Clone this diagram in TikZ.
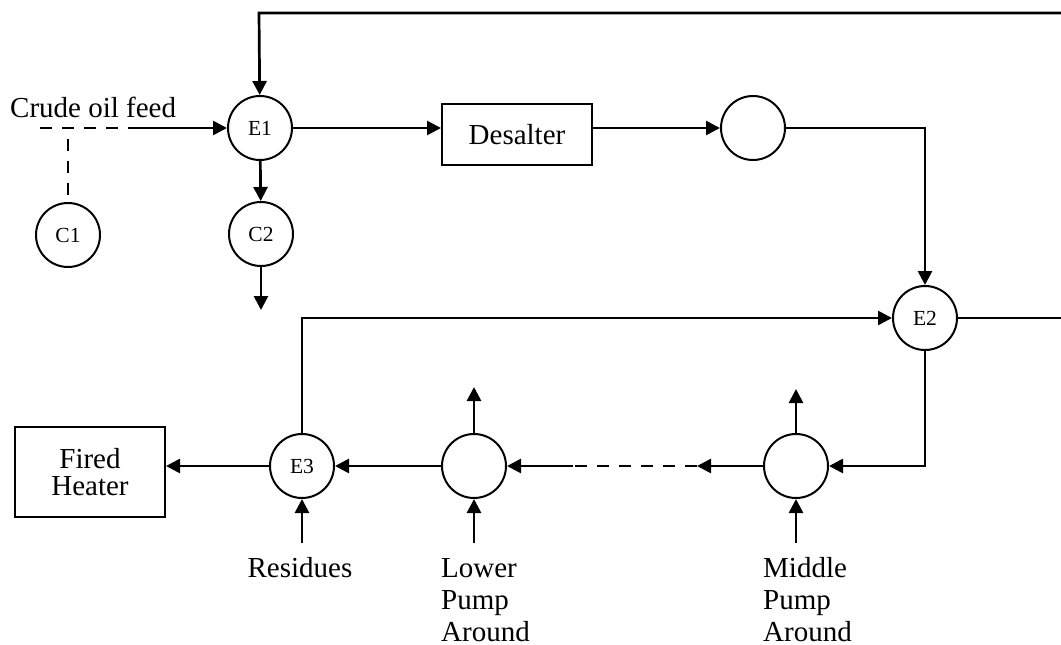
\documentclass[tikz,border=0pt]{standalone}
\usepackage{fontspec}
\setmainfont{Liberation Serif}
\usetikzlibrary{arrows.meta}
\begin{document}
\begin{tikzpicture}[x=1pt,y=-1pt,
  unit/.style={circle,draw,line width=2pt,minimum size=64pt,inner sep=0pt,font=\fontsize{21.5}{23}\selectfont},
  block/.style={rectangle,draw,line width=2pt,inner sep=0pt,font=\fontsize{29}{27}\selectfont,align=center},
  flow/.style={line width=2.7pt,-{Triangle[length=14pt,width=14pt]}},
  pipe/.style={line width=2.7pt},
  dashpipe/.style={line width=2.7pt,dash pattern=on 12pt off 10pt},
  lbl/.style={inner sep=0pt,font=\fontsize{29}{32}\selectfont,align=left}]
\useasboundingbox (0,0) rectangle (1061,645);

% units
\node[unit] (E1) at (260,128) {E1};
\node[unit] (C1) at (68,235) {C1};
\node[unit] (C2) at (261,234) {C2};
\node[block,minimum width=150pt,minimum height=61pt] (desalter) at (517,134.5) {Desalter};
\node[unit] (H1) at (753,128) {};
\node[unit] (E2) at (925,318) {E2};
\node[unit] (E3) at (302,466) {E3};
\node[unit] (LP) at (474,466) {};
\node[unit] (MP) at (796,466) {};
\node[block,minimum width=150pt,minimum height=90pt] (heater) at (90,472) {\raisebox{-5pt}{Fired}\\\raisebox{-5pt}{Heater}};

% labels
\node[lbl,anchor=base west] (feed) at (10,117) {Crude oil feed};
\node[lbl,anchor=base] (res) at (300,577) {Residues};
\node[lbl,anchor=north west] (lpa) at (441,557) {Lower\vphantom{d}\\Pump\\Around};
\node[lbl,anchor=north west] (mpa) at (763,557) {Middle\\Pump\\Around};

% auxiliary points
\coordinate (topR) at (1061,13);
\coordinate (topL) at (259,13);
\coordinate (feedA) at (40,128);
\coordinate (feedB) at (140,128);
\coordinate (c1top) at (68,195);
\coordinate (c2out) at (261,310);
\coordinate (bendA) at (925,128);
\coordinate (e2out) at (1061,318);
\coordinate (bendB) at (302,318);
\coordinate (bendC) at (925,466);
\coordinate (dashR) at (697,466);
\coordinate (dashL) at (573,466);
\coordinate (lpUp) at (474,387);
\coordinate (mpUp) at (796,389);
\coordinate (resIn) at (302,543);
\coordinate (lpIn) at (474,543);
\coordinate (mpIn) at (796,543);

% connectors
\draw[flow] (topR) -- (topL) -- (E1);
\draw[dashpipe] (feedA) -- (feedB);
\draw[dashpipe] (c1top) -- (68,128);
\draw[flow] (feedB) -- (E1);
\draw[flow] (E1) -- (C2);
\draw[flow] (C2) -- (c2out);
\draw[flow] (E1) -- (desalter.west |- E1);
\draw[flow] (desalter.east |- H1) -- (H1);
\draw[flow] (H1) -- (bendA) -- (E2);
\draw[pipe] (E2) -- (e2out);
\draw[flow] (E3) -- (bendB) -- (E2);
\draw[flow] (E2) -- (bendC) -- (MP);
\draw[flow] (MP) -- (dashR);
\draw[dashpipe] (dashR) -- (dashL);
\draw[flow] (dashL) -- (LP);
\draw[flow] (LP) -- (E3);
\draw[flow] (E3) -- (heater.east |- E3);
\draw[flow] (LP) -- (lpUp);
\draw[flow] (MP) -- (mpUp);
\draw[flow] (resIn) -- (E3);
\draw[flow] (lpIn) -- (LP);
\draw[flow] (mpIn) -- (MP);
\end{tikzpicture}
\end{document}
